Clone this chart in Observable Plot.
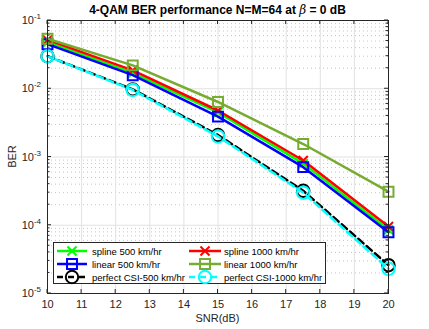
<!DOCTYPE html>
<html><head><meta charset="utf-8">
<script src="https://cdn.jsdelivr.net/npm/d3@7"></script>
<script src="https://cdn.jsdelivr.net/npm/@observablehq/plot@0.6"></script>
<style>
body{margin:0;background:#fff;}
svg{font-family:"Liberation Sans",Arial,Helvetica,sans-serif;}
</style>
</head><body><div id="chart"></div>
<script>
// ---- data ----
const snr = [10, 12.5, 15, 17.5, 20];
const spline500    = [0.048, 0.0170, 0.0045, 0.00080, 0.000086];
const spline1000   = [0.052, 0.0186, 0.0048, 0.00089, 0.000096];
const linear500    = [0.045, 0.0158, 0.0039, 0.00071, 0.000079];
const linear1000   = [0.054, 0.0220, 0.0064, 0.00155, 0.00031];
const perfect500   = [0.030, 0.0098, 0.0021, 0.00032, 0.000026];
const perfect1000  = [0.030, 0.0096, 0.0020, 0.00030, 0.000023];
const seriesNames = ["spline 500 km/hr", "spline 1000 km/hr", "linear 500 km/hr",
                     "linear 1000 km/hr", "perfect CSI-500 km/hr", "perfect CSI-1000 km/hr"];
const seriesValues = [spline500, spline1000, linear500, linear1000, perfect500, perfect1000];
const xTicks = [10, 11, 12, 13, 14, 15, 16, 17, 18, 19, 20];
const yTicks = [1e-5, 1e-4, 1e-3, 1e-2, 1e-1];
const yTickExp = ["-5", "-4", "-3", "-2", "-1"];
const titleText = ["4-QAM BER performance N=M=64 at ", "β", " = 0 dB"];
const xLabel = "SNR(dB)";
const yLabel = "BER";

// ---- styles ----
const styles = [
  {color: "#00ff00", symbol: "times",  dash: null, r: 4.2},
  {color: "#ff0000", symbol: "times",  dash: null, r: 4.2},
  {color: "#0000ff", symbol: "square", dash: null, r: 5.6},
  {color: "#77ac30", symbol: "square", dash: null, r: 5.6},
  {color: "#000000", symbol: "circle", dash: "7,4", off: 0, r: 6.2},
  {color: "#00ffff", symbol: "circle", dash: "7,4", off: 2.5, r: 6.2}
];

const minorY = [];
for (let e = -5; e < -1; e++) for (let m = 2; m <= 9; m++) minorY.push(m * Math.pow(10, e));

const marks = [
  Plot.gridY(minorY, {stroke: "#c4c4c4", strokeOpacity: 1, strokeDasharray: "1,3", strokeWidth: 1}),
  Plot.gridY(yTicks, {stroke: "#e2e2e2", strokeOpacity: 1}),
  Plot.gridX(xTicks, {stroke: "#e2e2e2", strokeOpacity: 1}),
  Plot.axisX(xTicks, {tickSize: 0, tickPadding: 7, fontSize: 11, fill: "#262626", tickFormat: d => String(d)}),
  Plot.axisY(yTicks, {tickSize: 0, tickFormat: () => ""})
];
const drawOrder = [0, 1, 2, 3, 4, 5];
for (const i of drawOrder) {
  const st = styles[i];
  const rows = snr.map((x, j) => ({x, y: seriesValues[i][j]}));
  marks.push(Plot.line(rows, {x: "x", y: "y", stroke: st.color, strokeWidth: 2.5,
    strokeDasharray: st.dash, strokeDashoffset: st.off || 0}));
  marks.push(Plot.dot(rows, {x: "x", y: "y", stroke: st.color, symbol: st.symbol, r: st.r,
    fill: "none", strokeWidth: 2}));
}
marks.push(Plot.frame({stroke: "#262626", strokeWidth: 1}));

const plot = Plot.plot({
  width: 429, height: 329,
  marginLeft: 47, marginRight: 41, marginTop: 20, marginBottom: 36,
  style: {background: "#fff", fontFamily: '"Liberation Sans", Arial, Helvetica, sans-serif'},
  x: {domain: [10, 20], label: null},
  y: {type: "log", domain: [1e-5, 1e-1], label: null},
  marks
});
document.getElementById("chart").appendChild(plot);

const sx = plot.scale("x"), sy = plot.scale("y");
const svg = d3.select(plot);
const x0 = sx.apply(10), x1 = sx.apply(20), y0 = sy.apply(1e-5), y1 = sy.apply(1e-1);
const g = svg.append("g").attr("stroke", "#262626").attr("stroke-width", 1);
for (const t of xTicks) {
  const px = sx.apply(t);
  g.append("line").attr("x1", px).attr("x2", px).attr("y1", y0).attr("y2", y0 - 4);
  g.append("line").attr("x1", px).attr("x2", px).attr("y1", y1).attr("y2", y1 + 4);
}
for (const t of yTicks) {
  const py = sy.apply(t);
  g.append("line").attr("x1", x0).attr("x2", x0 + 4).attr("y1", py).attr("y2", py);
  g.append("line").attr("x1", x1).attr("x2", x1 - 4).attr("y1", py).attr("y2", py);
}
for (const t of minorY) {
  const py = sy.apply(t);
  g.append("line").attr("x1", x0).attr("x2", x0 + 2.5).attr("y1", py).attr("y2", py);
  g.append("line").attr("x1", x1).attr("x2", x1 - 2.5).attr("y1", py).attr("y2", py);
}
// y tick labels with superscripts
yTicks.forEach((t, i) => {
  const py = sy.apply(t);
  const tx = svg.append("text").attr("x", x0 - 6).attr("y", py + 4).attr("text-anchor", "end")
    .attr("font-size", 11).attr("fill", "#262626");
  tx.append("tspan").text("10");
  tx.append("tspan").attr("dy", -5).attr("font-size", 8).text(yTickExp[i]);
});
// title
const tt = svg.append("text").attr("x", (x0 + x1) / 2).attr("y", 14).attr("text-anchor", "middle")
  .attr("font-size", 12).attr("font-weight", "bold").attr("fill", "#000");
tt.append("tspan").text(titleText[0]);
tt.append("tspan").attr("font-style", "italic").attr("font-family", "DejaVu Serif, serif").attr("font-weight", "normal").text(titleText[1]);
tt.append("tspan").text(titleText[2]);
// axis labels
svg.append("text").attr("x", (x0 + x1) / 2).attr("y", 322).attr("text-anchor", "middle")
  .attr("font-size", 11).attr("fill", "#262626").text(xLabel);
svg.append("text").attr("transform", `translate(16,${(y0 + y1) / 2}) rotate(-90)`).attr("text-anchor", "middle")
  .attr("font-size", 11).attr("fill", "#262626").text(yLabel);
// legend
const lg = svg.append("g");
lg.append("rect").attr("x", 53.5).attr("y", 242.5).attr("width", 272).attr("height", 41)
  .attr("fill", "#fff").attr("stroke", "#262626").attr("stroke-width", 1);
const cols = [{lx0: 57, lx1: 87, tx: 92}, {lx0: 189, lx1: 221, tx: 224}];
const rowsY = [251, 264, 277];
const symGen = (s, r) => d3.symbol(s === "times" ? d3.symbolTimes : s === "square" ? d3.symbolSquare : d3.symbolCircle, Math.PI * r * r)();
seriesNames.forEach((name, i) => {
  const st = styles[i];
  const c = cols[i % 2], ry = rowsY[Math.floor(i / 2)];
  lg.append("line").attr("x1", c.lx0).attr("x2", c.lx1).attr("y1", ry).attr("y2", ry)
    .attr("stroke", st.color).attr("stroke-width", 2.5).attr("stroke-dasharray", st.dash ? "6,5" : null);
  lg.append("path").attr("d", symGen(st.symbol, st.r)).attr("transform", `translate(${(c.lx0 + c.lx1) / 2},${ry})`)
    .attr("fill", "none").attr("stroke", st.color).attr("stroke-width", 2);
  lg.append("text").attr("x", c.tx).attr("y", ry + 3.5).attr("text-anchor", "start")
    .attr("font-size", 9.5).attr("fill", "#000").text(name);
});
</script>
</body></html>
